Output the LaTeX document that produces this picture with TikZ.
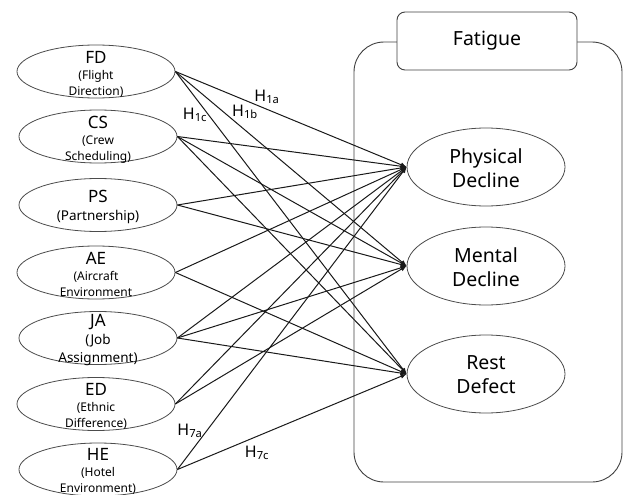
\documentclass[tikz,border=0pt]{standalone}
\usepackage{fontspec}
\setmainfont{Noto Sans}
\usetikzlibrary{arrows.meta,shapes.geometric}
\newcommand\mytitlefont{\fontsize{17}{17}\selectfont}
\begin{document}
\begin{tikzpicture}[x=1pt,y=-1pt,
  src/.style={draw=black!70, line width=0.8pt, ellipse, minimum width=158pt, minimum height=53pt, inner sep=0pt},
  tgt/.style={draw=black!70, line width=0.8pt, ellipse, minimum width=158pt, minimum height=78pt, inner sep=0pt},
  stxt/.style={align=center, inner sep=0pt, font=\fontsize{12}{16}\selectfont},
  btxt/.style={align=center, inner sep=0pt, font=\fontsize{13.5}{18}\selectfont},
  ttxt/.style={align=center, inner sep=0pt, font=\fontsize{19.5}{24}\selectfont},
  link/.style={draw=black!90, line width=1pt, -{Latex[length=6pt,width=5pt]}},
  hlab/.style={font=\fontsize{16}{16}\selectfont, inner sep=0pt}
]
\useasboundingbox (0,0) rectangle (624,495);

% container
\draw[black!75, line width=0.9pt, rounded corners=30pt] (354,42) rectangle (622,482);
\node[draw=black!75, line width=0.9pt, fill=white, rounded corners=8pt, minimum width=180pt, minimum height=58pt, inner sep=0pt, font=\fontsize{19.5}{19.5}\selectfont] (fat) at (487,41) {Fatigue};

% source ellipses
\node[src] (FD) at (96,71.5) {};
\node[src] (CS) at (98,136.5) {};
\node[src] (PS) at (98,205) {};
\node[src] (AE) at (96,272.5) {};
\node[src] (JA) at (98,338) {};
\node[src] (ED) at (96,404) {};
\node[src] (HE) at (98,469.5) {};

\node[stxt] (FDt) at (96,74.5) {{\mytitlefont FD}\\(Flight\\Direction)};
\node[stxt] (CSt) at (98,139.5) {{\mytitlefont CS}\\(Crew\\Scheduling)};
\node[btxt] (PSt) at (98,207) {{\mytitlefont PS}\\(Partnership)};
\node[stxt] (AEt) at (96,274.5) {{\mytitlefont AE}\\(Aircraft\\Environment};
\node[btxt] (JAt) at (98,340.5) {{\mytitlefont JA}\\(Job\\Assignment)};
\node[stxt] (EDt) at (96,406.5) {{\mytitlefont ED}\\(Ethnic\\Difference)};
\node[stxt] (HEt) at (98,471.5) {{\mytitlefont HE}\\(Hotel\\Environment)};

% target ellipses
\node[tgt] (PD) at (486,167) {};
\node[tgt] (MD) at (486,266) {};
\node[tgt] (RD) at (486,374) {};
\node[ttxt] (PDt) at (486,168) {Physical\\Decline};
\node[ttxt] (MDt) at (486,267) {Mental\\Decline};
\node[ttxt] (RDt) at (486,375) {Rest\\Defect};

% links
\foreach \s in {FD,CS,PS,AE,JA,ED,HE} \draw[link] (\s.east) -- (PD.west);
\foreach \s in {FD,CS,PS,JA,ED} \draw[link] (\s.east) -- (MD.west);
\foreach \s in {FD,CS,AE,JA,HE} \draw[link] (\s.east) -- (RD.west);

% labels
\node[hlab] (h1a) at (267,97) {H\textsubscript{1a}};
\node[hlab] (h1b) at (245,112) {H\textsubscript{1b}};
\node[hlab] (h1c) at (195,115) {H\textsubscript{1c}};
\node[hlab] (h7a) at (190,431) {H\textsubscript{7a}};
\node[hlab] (h7c) at (257,453) {H\textsubscript{7c}};
\end{tikzpicture}
\end{document}
